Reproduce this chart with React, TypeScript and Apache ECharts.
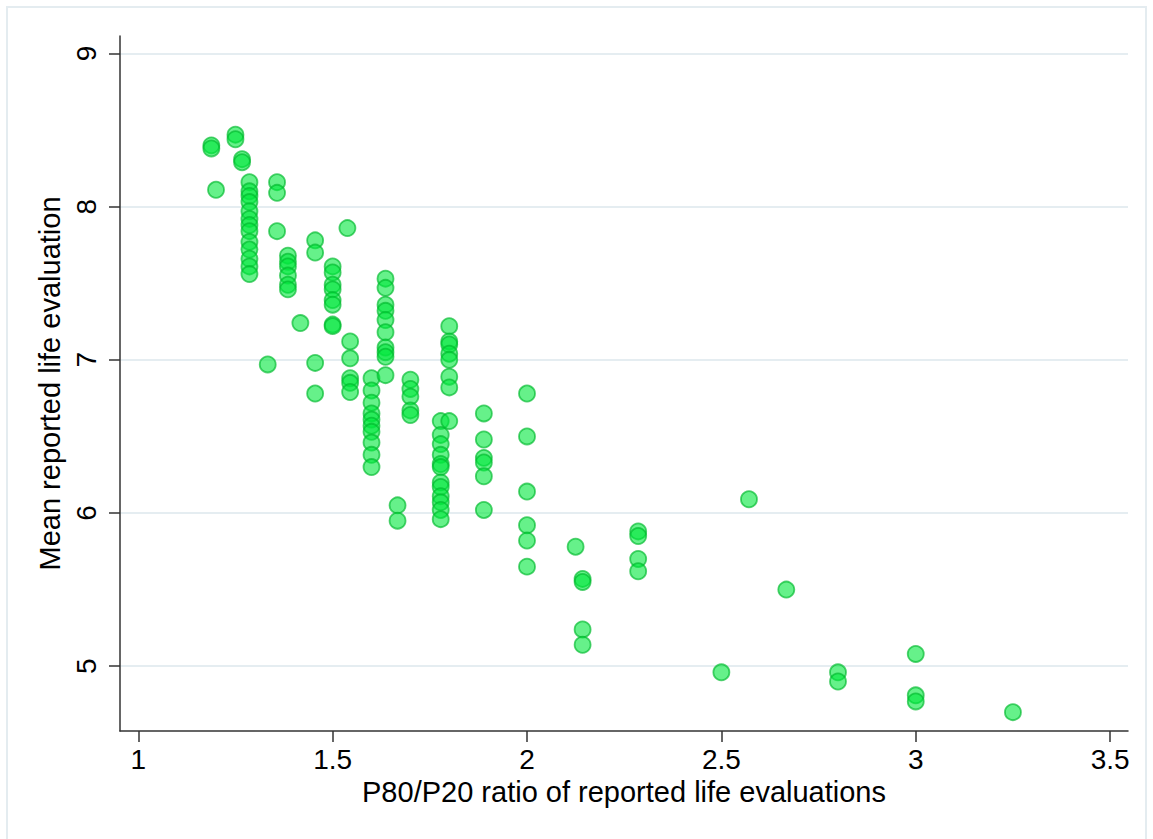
import React, { useEffect, useRef } from "react";
import * as echarts from "echarts";

// P80/P20 ratio columns (x) and the mean life evaluations observed at each (y)
const ratios = [
  1.188, 1.2, 1.25, 1.267, 1.286, 1.333, 1.357, 1.385, 1.417, 1.455, 1.5, 1.538,
  1.545, 1.6, 1.636, 1.667, 1.7, 1.778, 1.8, 1.889, 2.0, 2.125, 2.143, 2.286,
  2.5, 2.571, 2.667, 2.8, 3.0, 3.25,
];
const lifeEvalByRatio: number[][] = [
  [8.40, 8.38],
  [8.11],
  [8.47, 8.44],
  [8.31, 8.29],
  [8.16, 8.10, 8.07, 8.03, 7.97, 7.92, 7.88, 7.84, 7.77, 7.72, 7.66, 7.61, 7.56],
  [6.97],
  [8.16, 8.09, 7.84],
  [7.68, 7.64, 7.61, 7.55, 7.49, 7.46],
  [7.24],
  [7.78, 7.70, 6.98, 6.78],
  [7.61, 7.57, 7.49, 7.46, 7.39, 7.36, 7.23, 7.22],
  [7.86],
  [7.12, 7.01, 6.88, 6.85, 6.79],
  [6.88, 6.80, 6.72, 6.65, 6.61, 6.57, 6.53, 6.46, 6.38, 6.30],
  [7.53, 7.47, 7.36, 7.32, 7.26, 7.18, 7.08, 7.05, 7.02, 6.90],
  [6.05, 5.95],
  [6.87, 6.81, 6.76, 6.67, 6.64],
  [6.60, 6.51, 6.45, 6.38, 6.32, 6.30, 6.20, 6.17, 6.11, 6.07, 6.02, 5.96],
  [7.22, 7.12, 7.10, 7.04, 7.00, 6.89, 6.82, 6.60],
  [6.65, 6.48, 6.36, 6.33, 6.24, 6.02],
  [6.78, 6.50, 6.14, 5.92, 5.82, 5.65],
  [5.78],
  [5.57, 5.55, 5.24, 5.14],
  [5.88, 5.85, 5.70, 5.62],
  [4.96],
  [6.09],
  [5.50],
  [4.96, 4.90],
  [5.08, 4.81, 4.77],
  [4.70],
];

const xTicks = [1, 1.5, 2, 2.5, 3, 3.5];
const yTicks = [5, 6, 7, 8, 9];
const xTitle = "P80/P20 ratio of reported life evaluations";
const yTitle = "Mean reported life evaluation";

const FONT = "'Liberation Sans', Arial, Helvetica, sans-serif";

export default function App() {
  const ref = useRef<HTMLDivElement>(null);

  useEffect(() => {
    if (!ref.current) return;
    const chart = echarts.init(ref.current, null, { renderer: "svg" });

    const points: number[][] = [];
    ratios.forEach((r, i) => {
      lifeEvalByRatio[i].forEach((v) => points.push([r, v]));
    });

    const axisLine = { show: true, lineStyle: { color: "#333", width: 1.5 } };
    const axisTickBase = { show: true, length: 11, lineStyle: { color: "#333", width: 1.5 } };

    chart.setOption({
      animation: false,
      backgroundColor: "#ffffff",
      grid: { left: 120, right: 25, top: 36, bottom: 108, containLabel: false },
      graphic: [
        {
          type: "rect",
          shape: { x: 7, y: 7, width: 1139, height: 845 },
          style: { fill: "none", stroke: "#e4ecf0", lineWidth: 2 },
          silent: true,
        },
      ],
      xAxis: {
        type: "value",
        min: 0.953,
        max: 3.546,
        name: xTitle,
        nameLocation: "middle",
        nameGap: 45,
        nameTextStyle: { fontSize: 29, color: "#000", fontFamily: FONT },
        axisLine,
        axisTick: { ...axisTickBase, customValues: xTicks },
        axisLabel: {
          customValues: xTicks,
          fontSize: 28,
          color: "#000",
          fontFamily: FONT,
          margin: 14,
        },
        splitLine: { show: false },
      },
      yAxis: {
        type: "value",
        min: 4.577,
        max: 9.114,
        name: yTitle,
        nameLocation: "middle",
        nameGap: 50,
        nameRotate: 90,
        nameTextStyle: { fontSize: 29, color: "#000", fontFamily: FONT },
        axisLine,
        axisTick: { ...axisTickBase, customValues: yTicks },
        axisLabel: {
          customValues: yTicks,
          rotate: 90,
          fontSize: 28,
          color: "#000",
          fontFamily: FONT,
          margin: 20,
        },
        splitLine: { show: true, lineStyle: { color: "#e5edf1", width: 2 } },
      },
      series: [
        {
          type: "scatter",
          data: points,
          symbol: "circle",
          symbolSize: 16,
          itemStyle: {
            color: "rgba(0, 232, 60, 0.75)",
            borderColor: "rgba(0, 185, 45, 0.85)",
            borderWidth: 1.8,
          },
        },
      ],
    });

    return () => chart.dispose();
  }, []);

  return (
    <div
      ref={ref}
      style={{ position: "fixed", left: 0, top: 0, width: 1153, height: 839 }}
    />
  );
}
